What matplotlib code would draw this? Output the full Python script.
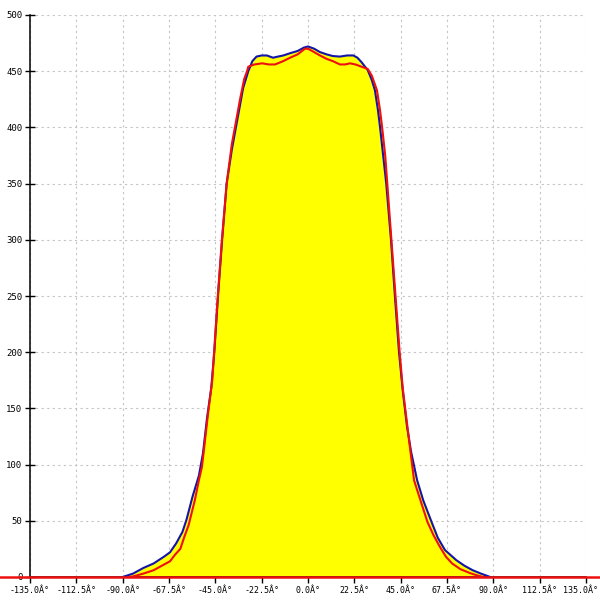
import matplotlib
matplotlib.use("Agg")
import matplotlib.pyplot as plt
import matplotlib.transforms as mtransforms
import numpy as np

# Outer (blue) series: angle (deg) and value
blue_angle = [-90, -85, -80, -75, -70, -67, -64, -61, -59, -56, -53, -51, -49, -47,
              -45.5, -43.7, -41.7, -39.5, -37, -35, -33, -31.5, -29, -27, -25, -22.5,
              -20, -17, -14.6, -12, -8.7, -5, -2, 0, 3, 5.8, 9, 12, 15.5, 19, 22, 24,
              26, 29, 31, 32.5, 34, 35, 36.5, 38, 40.3, 42.2, 44.2, 46, 48, 50, 53,
              56, 60, 63, 66.5, 72, 76, 80, 84, 88.5]
blue_value = [0, 3, 8, 12, 18, 22, 30, 40, 51, 72, 90, 110, 142, 168,
              200, 250, 300, 350, 380, 400, 420, 435, 450, 459, 463, 464,
              464, 462, 463, 464, 466, 468, 471, 472, 470, 467, 465, 463.5, 463, 464, 464, 462,
              458, 451, 442, 433, 415, 400, 375, 350, 300, 250, 200, 166, 135, 112, 86,
              68, 49, 35, 24, 15, 10, 6, 3, 0]

# Inner (red) series
red_angle = [-87, -85, -80, -75, -72, -67, -64.5, -62, -60, -58, -56.5, -55, -54, -53,
             -51.5, -48.5, -46.5, -45.6, -43.8, -41.8, -39.5, -37, -35, -33, -31, -29.6,
             -29, -26, -22.3, -19, -16, -12, -8.7, -5, -1.5, 0, 2, 5.8, 9, 12, 15.5, 18,
             20.4, 23, 26, 29, 31, 33.5, 35, 36, 37.5, 38.5, 40.5, 42.5, 44.5, 46, 48,
             50, 51.5, 55, 58, 61, 64, 67, 70, 74, 78.6, 82, 85]
red_value = [0, 0.5, 3, 6, 9, 14, 20, 25, 36, 46, 57, 68, 77, 86,
             98, 146, 175, 200, 250, 300, 350, 385, 405, 425, 443, 450,
             454, 456, 457, 456, 456, 459, 462, 465, 470, 470, 468, 464, 461, 459, 456, 456,
             457, 456, 454, 452, 446, 433, 415, 400, 375, 350, 300, 250, 200, 168, 138,
             108, 86, 66, 49, 37, 27, 18, 12, 7, 3.5, 1.5, 0]

x_ticks = [-135, -112.5, -90, -67.5, -45, -22.5, 0, 22.5, 45, 67.5, 90, 112.5, 135]
y_ticks = [0, 50, 100, 150, 200, 250, 300, 350, 400, 450, 500]

plt.rcParams['font.family'] = ['DejaVu Sans Mono']

fig = plt.figure(figsize=(6, 6), dpi=100)
ax = fig.add_axes([30/600, 23/600, 556/600, 562/600])

ax.fill_between(blue_angle, blue_value, 0, color='#ffff00', linewidth=0, zorder=1)
ax.fill_between(red_angle, red_value, 0, color='#ffff00', linewidth=0, zorder=1)
ax.plot(blue_angle, blue_value, color='#1414a8', linewidth=1.5, zorder=3)
ax.plot(red_angle, red_value, color='#ee1010', linewidth=1.5, zorder=4)
ax.axhline(0, xmin=-0.06, xmax=1.03, color='#ee1010', linewidth=1.8, clip_on=False, zorder=5)

ax.set_xlim(-135, 135)
ax.set_ylim(0, 500)
ax.set_xticks(x_ticks)
ax.set_xticklabels([f"{v:.1f}Â°" for v in x_ticks])
ax.set_yticks(y_ticks)
ax.set_yticklabels([str(v) for v in y_ticks])

ax.grid(True, color='#c4c4c4', linestyle=(0, (2, 3)), linewidth=0.8, zorder=0)
ax.set_axisbelow(True)

for s in ['top', 'right']:
    ax.spines[s].set_visible(False)
for s in ['left', 'bottom']:
    ax.spines[s].set_linewidth(1.1)
    ax.spines[s].set_color('black')

ax.tick_params(axis='x', direction='out', length=4, width=1, labelsize=6, pad=2.5)
ax.tick_params(axis='y', direction='inout', length=7, width=1, labelsize=6.5, pad=2)

# shift the last x label slightly so it stays inside the picture
last = ax.get_xticklabels()[-1]
last.set_transform(last.get_transform() + mtransforms.ScaledTranslation(-5/100, 0, fig.dpi_scale_trans))

fig.savefig('out.png', dpi=100)
